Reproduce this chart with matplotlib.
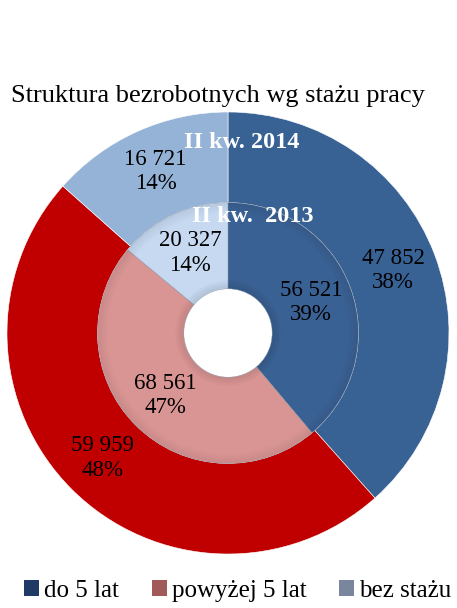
import numpy as np
import matplotlib
matplotlib.use('Agg')
import matplotlib.pyplot as plt
from matplotlib.patches import Patch

plt.rcParams['font.family'] = ['Liberation Serif', 'DejaVu Serif']

categories = ['do 5 lat', 'powyżej 5 lat', 'bez stażu']
values_2014 = [47852, 59959, 16721]
values_2013 = [56521, 68561, 20327]
pct_2014 = ['38%', '48%', '14%']
pct_2013 = ['39%', '47%', '14%']
year_outer = 'II kw. 2014'
year_inner = 'II kw.  2013'

colors_outer = ['#386194', '#C00000', '#95B3D7']
colors_inner = ['#3A6193', '#D99594', '#C6D9F1']
legend_colors = ['#1F3A64', '#A05A5A', '#7A869E']


def fmt(v):
    return '{:,}'.format(v).replace(',', ' ')


fig = plt.figure(figsize=(4.57, 6.08), dpi=100)
ax = fig.add_axes([7 / 457, 54 / 608, 442 / 457, 442 / 608])

w_out, _ = ax.pie(values_2014, radius=1.0, colors=colors_outer,
                  startangle=90, counterclock=False,
                  wedgeprops=dict(width=0.41, edgecolor='white', linewidth=0.4))
w_in, _ = ax.pie(values_2013, radius=0.59, colors=colors_inner,
                 startangle=90, counterclock=False,
                 wedgeprops=dict(width=0.39, edgecolor='#8090a0', linewidth=0.3))

# soft shadow on the inner ring, darker towards the hole and the outer edge
for i, r in enumerate(np.linspace(0.235, 0.205, 6)):
    ax.add_patch(plt.Circle((0, 0), r, fill=False, edgecolor='black',
                            alpha=0.015 + 0.012 * i, linewidth=1.2))
for i, r in enumerate(np.linspace(0.55, 0.585, 6)):
    ax.add_patch(plt.Circle((0, 0), r, fill=False, edgecolor='black',
                            alpha=0.01 + 0.01 * i, linewidth=1.2))


def label(wedges, vals, pcts, r):
    for w, v, p in zip(wedges, vals, pcts):
        ang = np.deg2rad((w.theta1 + w.theta2) / 2)
        ax.text(r * np.cos(ang), r * np.sin(ang), fmt(v) + '\n' + p,
                ha='center', va='center', fontsize=16.5, linespacing=1.2,
                color='black')


label(w_out, values_2014, pct_2014, 0.80)
label(w_in, values_2013, pct_2013, 0.40)

ax.text(0.06, 0.86, year_outer, ha='center', va='center', fontsize=17.5,
        fontweight='bold', color='white')
ax.text(0.11, 0.525, year_inner, ha='center', va='center', fontsize=17.5,
        fontweight='bold', color='white')

ax.set_xlim(-1, 1)
ax.set_ylim(-1, 1)
ax.set_aspect('equal')
ax.axis('off')

fig.text(218 / 457, 1 - 96 / 608, 'Struktura bezrobotnych wg stażu pracy',
         ha='center', va='center', fontsize=19)

handles = [Patch(facecolor=c, edgecolor='none') for c in legend_colors]
fig.legend(handles, categories, loc='center', bbox_to_anchor=(0.52, 1 - 591 / 608),
           ncol=3, frameon=False, fontsize=18, handlelength=0.6, handleheight=0.6,
           handletextpad=0.2, columnspacing=1.3, borderpad=0.1)

fig.savefig('out.png', dpi=100)
